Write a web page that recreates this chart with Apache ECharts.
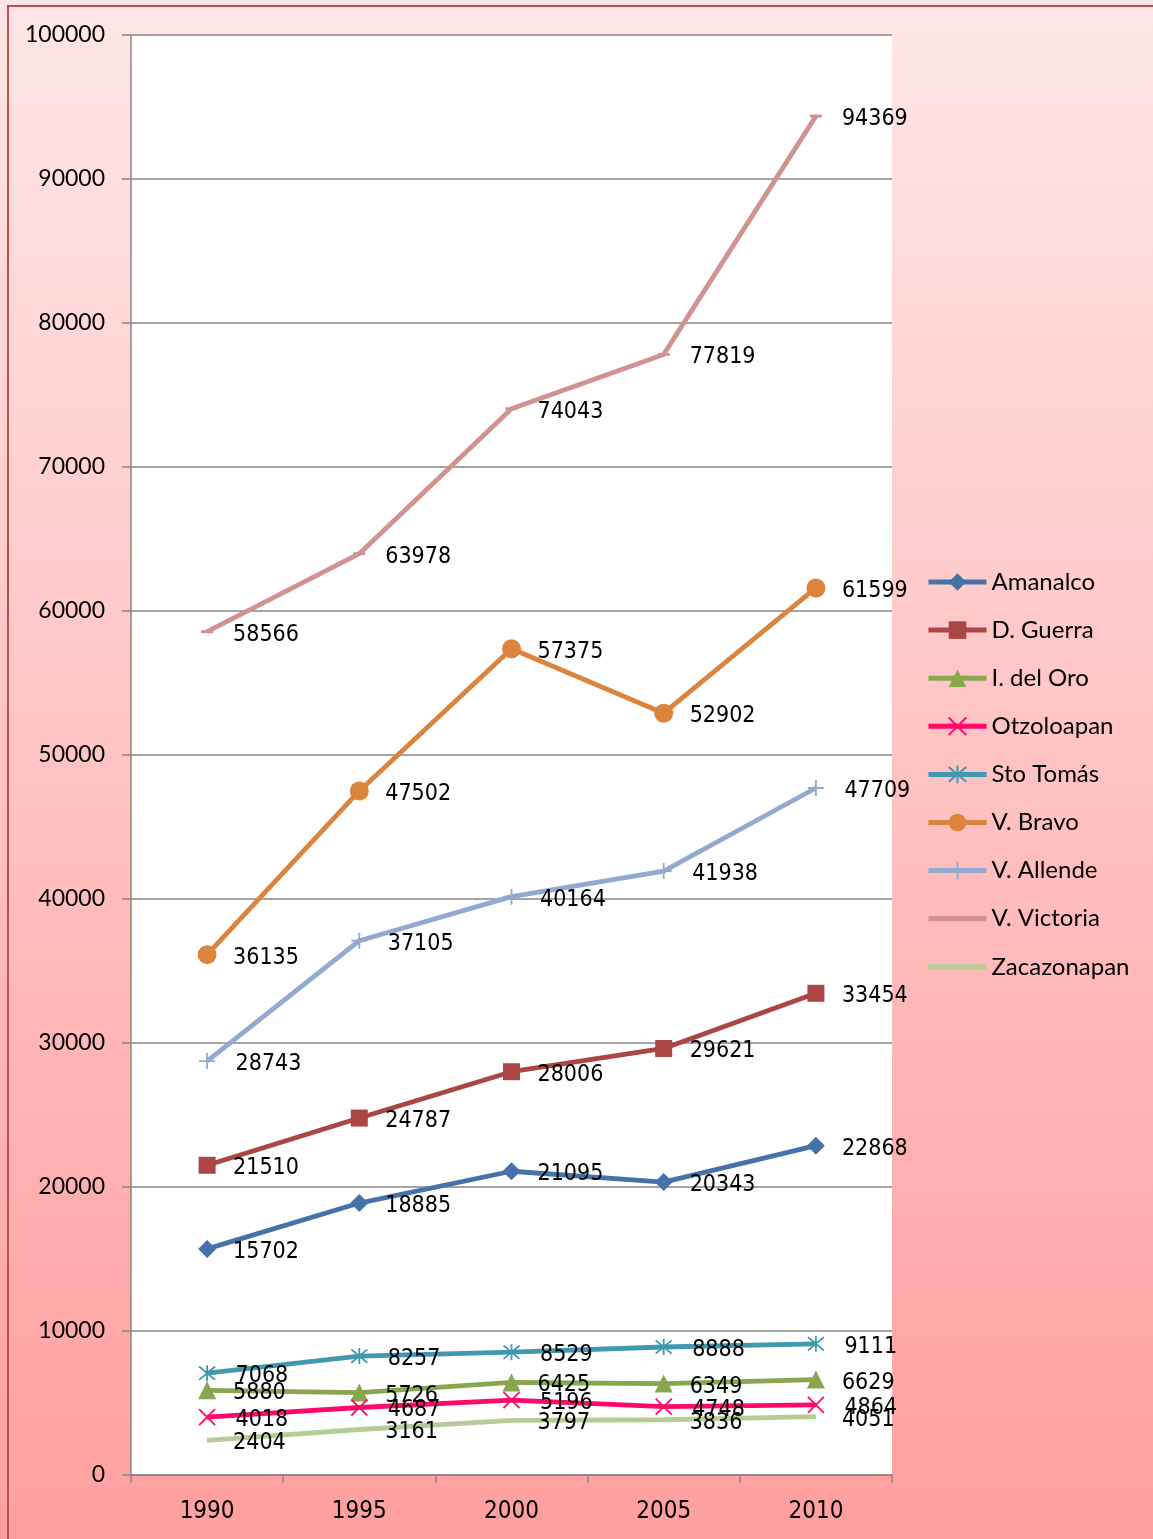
<!DOCTYPE html>
<html><head><meta charset="utf-8">
<script src="https://cdn.jsdelivr.net/npm/echarts@6/dist/echarts.min.js"></script>
<style>html,body{margin:0;padding:0;}#c{width:1153px;height:1539px;}</style>
</head><body><div id="c"></div>
<script>
const years = ['1990','1995','2000','2005','2010'];
const names = ['Amanalco','D. Guerra','I. del Oro','Otzoloapan','Sto Tomás','V. Bravo','V. Allende','V. Victoria','Zacazonapan'];
const amanalco   = [15702, 18885, 21095, 20343, 22868];
const dGuerra    = [21510, 24787, 28006, 29621, 33454];
const iDelOro    = [5880, 5726, 6425, 6349, 6629];
const otzoloapan = [4018, 4687, 5196, 4748, 4864];
const stoTomas   = [7068, 8257, 8529, 8888, 9111];
const vBravo     = [36135, 47502, 57375, 52902, 61599];
const vAllende   = [28743, 37105, 40164, 41938, 47709];
const vVictoria  = [58566, 63978, 74043, 77819, 94369];
const zacazonapan= [2404, 3161, 3797, 3836, 4051];
const yTicks = [0,10000,20000,30000,40000,50000,60000,70000,80000,90000,100000];

const seriesData = [amanalco,dGuerra,iDelOro,otzoloapan,stoTomas,vBravo,vAllende,vVictoria,zacazonapan];
const colors = ['#4572A7','#AA4643','#89A54E','#FF0A6A','#4198AF','#DB843D','#93A9CF','#D09391','#B7CC94'];
const symbols = ['diamond','rect','triangle','path://M0,0 L10,10 M10,0 L0,10','path://M0,0 L10,10 M10,0 L0,10 M5,-1 L5,11','circle','path://M5,0 L5,10 M0,5 L10,5','rect','circle'];
const sizes = [18,17,18,16,16,19,16,[12,3],1];
const labelFont = '"Liberation Sans Narrow","DejaVu Sans Condensed",sans-serif';
const lineIcon = 'path://M0,0 L56,0 L56,5 L0,5 Z';

const series = names.map((n,i)=>{
  const s = Array.isArray(sizes[i]) ? sizes[i][0] : sizes[i];
  const stroke = symbols[i].startsWith('path://');
  return {
    name:n, type:'line', data:seriesData[i],
    symbol:symbols[i], symbolSize:sizes[i], showAllSymbol:true,
    lineStyle:{color:colors[i], width:4.8},
    itemStyle:{color: stroke ? 'none' : colors[i], borderColor:colors[i], borderWidth: stroke ? 1.8 : 0},
    label:{show:true, position:'right', distance: 26 - s/2, offset:[0,3], color:'#000',
      fontFamily:labelFont, fontSize:23},
    emphasis:{disabled:true},
    animation:false, z: 2
  };
});

const legendData = names.map((n,i)=> (i>=7 ? {name:n, icon:lineIcon, itemStyle:{color:colors[i]}} : {name:n}));

const chart = echarts.init(document.getElementById('c'), null, {renderer:'canvas'});
chart.setOption({
  animation:false,
  backgroundColor: new echarts.graphic.LinearGradient(0,0,0,1,[{offset:0,color:'#FFE6E6'},{offset:1,color:'#FF9F9F'}]),
  graphic:[{type:'rect', shape:{x:8,y:6,width:1300,height:1700}, style:{fill:'none', stroke:'#C0504D', lineWidth:2}, z:100}],
  grid:{left:131, right:261, top:35, bottom:64, show:true, backgroundColor:'#fff', borderWidth:0},
  legend:{orient:'vertical', left:921, top:565, itemWidth:58, itemHeight:22, itemGap:24.1,
    lineStyle:{width:5},
    textStyle:{fontFamily:'Lato', fontSize:24, color:'#000', lineHeight:18},
    data:legendData},
  xAxis:{type:'category', data:years, boundaryGap:true,
    axisLine:{lineStyle:{color:'#868686', width:1.5}},
    axisTick:{show:true, length:8, lineStyle:{color:'#868686', width:1.5}},
    axisLabel:{color:'#000', fontFamily:labelFont, fontSize:24, margin:25}},
  yAxis:{type:'value', min:yTicks[0], max:yTicks[yTicks.length-1], interval:10000,
    axisLine:{show:true, lineStyle:{color:'#868686', width:1.5}},
    axisTick:{show:true, length:9, lineStyle:{color:'#868686', width:1.5}},
    splitLine:{lineStyle:{color:'#868686', width:1.5}},
    axisLabel:{color:'#000', fontFamily:'Lato', fontSize:23, margin:26, formatter:(v)=>String(v)}},
  series:series
});
</script></body></html>
